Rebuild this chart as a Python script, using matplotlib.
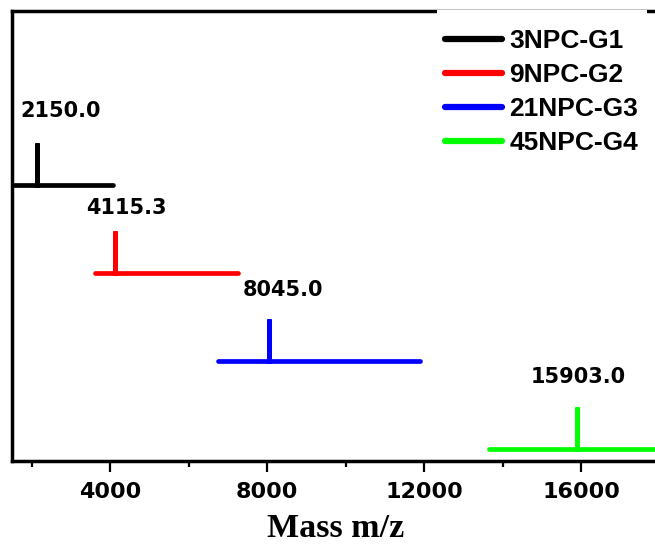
import matplotlib
matplotlib.use("Agg")
import matplotlib.pyplot as plt
from matplotlib.ticker import MultipleLocator
from matplotlib.patches import Rectangle

# ---- data ----
series_names = ["3NPC-G1", "9NPC-G2", "21NPC-G3", "45NPC-G4"]
peak_mass = [2150.0, 4115.3, 8045.0, 15903.0]
peak_labels = ["2150.0", "4115.3", "8045.0", "15903.0"]
range_start = [1000, 3620, 6760, 13660]
range_end = [4070, 7260, 11890, 19000]
peak_height = [0.48, 0.48, 0.48, 0.48]
stack_offset = [3, 2, 1, 0]
colors = ["#000000", "#ff0000", "#0000ff", "#00ff00"]

# label offsets (points) relative to peak top
label_dx = [17, 8.3, 10, 0.7]
label_dy = [18.4, 11.9, 16.2, 16.9]

W, H = 655, 548
fig = plt.figure(figsize=(W / 100, H / 100), dpi=100)
ax_left, ax_right = 11.9, 659.5
ax_top, ax_bot = 10.5, 461
ax = fig.add_axes([ax_left / W, (H - ax_bot) / H, (ax_right - ax_left) / W, (ax_bot - ax_top) / H])

for i in range(len(series_names)):
    off = stack_offset[i]
    xs = [range_start[i], peak_mass[i], peak_mass[i], peak_mass[i], range_end[i]]
    ys = [off, off, off + peak_height[i], off, off]
    ax.plot(xs, ys, color=colors[i], lw=3.4, solid_capstyle="round",
            solid_joinstyle="miter", label=series_names[i], zorder=3)
    ax.annotate(peak_labels[i], xy=(peak_mass[i], off + peak_height[i]),
                xytext=(label_dx[i], label_dy[i]), textcoords="offset points",
                ha="center", va="baseline", fontsize=15, fontweight="bold",
                family="DejaVu Sans", zorder=4)

ax.set_xlim(1500, 18000)
ax.set_ylim(-0.136, 4.983)

ax.xaxis.set_major_locator(MultipleLocator(4000))
ax.xaxis.set_minor_locator(MultipleLocator(2000))
ax.tick_params(axis="x", which="major", direction="out", length=8, width=1.6, pad=7)
ax.tick_params(axis="x", which="minor", direction="out", length=4.3, width=1.6)
ax.set_yticks([])
for lbl in ax.get_xticklabels():
    lbl.set_fontfamily("DejaVu Sans")
    lbl.set_fontweight("bold")
    lbl.set_fontsize(16)

for s in ["left", "bottom", "top"]:
    ax.spines[s].set_linewidth(2.5)
ax.spines["right"].set_visible(False)

ax.set_xlabel("Mass m/z", fontsize=24.5, fontweight="bold", family="Liberation Serif", labelpad=8)

# white cover over part of top spine (legend frame remnant)
cover = Rectangle((437 / W, (H - 19) / H), (647 - 437) / W, 8.5 / H,
                  transform=fig.transFigure, facecolor="white", edgecolor="none",
                  zorder=10, clip_on=False)
ax.add_artist(cover)

leg = ax.legend(loc="upper left", bbox_to_anchor=(444.5 / W, (H - 29) / H),
                bbox_transform=fig.transFigure, frameon=False, borderpad=0,
                borderaxespad=0, handlelength=2.16, handletextpad=0.3,
                labelspacing=0.38, prop={"family": "Liberation Sans", "weight": "bold", "size": 19})
for ln in leg.get_lines():
    ln.set_linewidth(4.5)
    ln.set_solid_capstyle("round")
leg.set_zorder(11)

fig.savefig("out.png", dpi=100)
